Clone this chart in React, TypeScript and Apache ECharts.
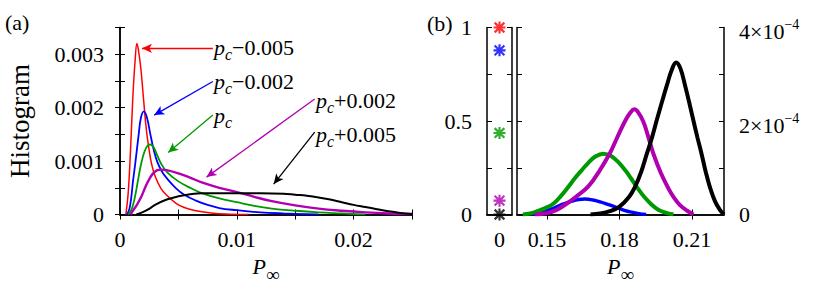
import React, { useEffect, useRef } from 'react';
import * as echarts from 'echarts';

const FONT = 'Liberation Serif';

// ---------- series meta ----------
const seriesNames = ['pc-0.005', 'pc-0.002', 'pc', 'pc+0.002', 'pc+0.005'];
const seriesColors = ['#ff0000', '#0000ff', '#009a00', '#b000b0', '#000000'];
const labelSuffix = ['−0.005', '−0.002', '', '+0.002', '+0.005'];

// ---------- panel (a): histograms of P_inf ----------
const histRed: [number, number][] = [
  [0.0005, 0], [0.0007, 0.0004], [0.0009, 0.0012], [0.0011, 0.0022], [0.0013, 0.0029],
  [0.00145, 0.0032], [0.0016, 0.00305], [0.0018, 0.0027], [0.002, 0.0022], [0.00225, 0.0016],
  [0.0025, 0.0012], [0.0027, 0.00095], [0.003, 0.00072], [0.0035, 0.00049], [0.004, 0.00036],
  [0.0048, 0.00021], [0.0055, 0.00013], [0.0065, 0.00007], [0.0078, 0.00003], [0.009, 0.00001],
  [0.011, 0],
];
const histBlue: [number, number][] = [
  [0.0006, 0], [0.0008, 0.0001], [0.00097, 0.00033], [0.0011, 0.0006], [0.00131, 0.00096],
  [0.0016, 0.0015], [0.0018, 0.00182], [0.00205, 0.00193], [0.0023, 0.00182], [0.0026, 0.0015],
  [0.0029, 0.0012], [0.0032, 0.00098], [0.0036, 0.0008], [0.004, 0.00068], [0.0048, 0.00049],
  [0.0055, 0.00037], [0.0065, 0.00026], [0.0075, 0.00018], [0.0085, 0.00012], [0.01, 0.00008],
  [0.012, 0.00004], [0.014, 0.00002], [0.017, 0],
];
const histGreen: [number, number][] = [
  [0.0007, 0], [0.001, 0.0001], [0.0013, 0.00035], [0.00154, 0.00064], [0.0018, 0.00094],
  [0.0021, 0.00118], [0.0024, 0.0013], [0.0026, 0.00131], [0.0029, 0.00125], [0.0032, 0.0011],
  [0.0035, 0.00096], [0.004, 0.0008], [0.005, 0.00062], [0.0061, 0.00049], [0.007, 0.0004],
  [0.0085, 0.0003], [0.01, 0.00023], [0.0115, 0.00016], [0.013, 0.00011], [0.015, 0.00007],
  [0.017, 0.00004], [0.019, 0.00002], [0.021, 0],
];
const histMagenta: [number, number][] = [
  [0.0009, 0], [0.0012, 0.0001], [0.0015, 0.0002], [0.00182, 0.00033], [0.0022, 0.00053],
  [0.00245, 0.00064], [0.0028, 0.00076], [0.0032, 0.00083], [0.00353, 0.00084], [0.004, 0.00083],
  [0.005, 0.00077], [0.006, 0.00069], [0.007, 0.0006], [0.0085, 0.0005], [0.01, 0.00042],
  [0.0115, 0.00033], [0.013, 0.00025], [0.015, 0.00017], [0.017, 0.00011], [0.019, 0.00007],
  [0.021, 0.00004], [0.023, 0.00002], [0.025, 0.00001],
];
const histBlack: [number, number][] = [
  [0.0014, 0], [0.002, 0.00005], [0.0026, 0.00012], [0.003, 0.00018], [0.004, 0.00028],
  [0.005, 0.00034], [0.006, 0.00038], [0.007, 0.0004], [0.008, 0.0004], [0.01, 0.0004],
  [0.012, 0.0004], [0.014, 0.00039], [0.015, 0.00037], [0.016, 0.00035], [0.017, 0.00032],
  [0.018, 0.00028], [0.019, 0.00023], [0.02, 0.00018], [0.021, 0.00014], [0.022, 0.0001],
  [0.023, 0.00006], [0.024, 0.00003], [0.025, 0.00001],
];
const histA = [histRed, histBlue, histGreen, histMagenta, histBlack];

// arrows of panel (a): [start, end] in data units
const arrowsA: [number, number][][] = [
  [[0.00795, 0.00311], [0.00188, 0.00311]],
  [[0.00795, 0.00249], [0.00293, 0.00186]],
  [[0.00795, 0.00186], [0.00413, 0.00116]],
  [[0.01667, 0.00216], [0.00741, 0.0007]],
  [[0.01667, 0.00154], [0.01316, 0.00057]],
];

// ---------- panel (b) ----------
const infiniteFraction = [1.0, 0.878, 0.436, 0.074, 0];

const histBBlue: [number, number][] = [
  [0.144, 0], [0.148, 0.05e-4], [0.152, 0.12e-4], [0.156, 0.21e-4], [0.16, 0.28e-4],
  [0.163, 0.32e-4], [0.1657, 0.33e-4], [0.169, 0.31e-4], [0.172, 0.27e-4], [0.1755, 0.21e-4],
  [0.1788, 0.15e-4], [0.182, 0.09e-4], [0.185, 0.05e-4], [0.188, 0.02e-4], [0.191, 0],
];
const histBGreen: [number, number][] = [
  [0.14, 0], [0.143, 0.02e-4], [0.146, 0.07e-4], [0.149, 0.13e-4], [0.1526, 0.23e-4],
  [0.1558, 0.4e-4], [0.1588, 0.59e-4], [0.1616, 0.78e-4], [0.1644, 0.95e-4], [0.167, 1.1e-4],
  [0.17, 1.24e-4], [0.1733, 1.3e-4], [0.1765, 1.25e-4], [0.1795, 1.12e-4], [0.1823, 0.95e-4],
  [0.1848, 0.77e-4], [0.1871, 0.59e-4], [0.19, 0.39e-4], [0.1933, 0.21e-4], [0.196, 0.1e-4],
  [0.199, 0.04e-4], [0.2023, 0],
];
const histBMagenta: [number, number][] = [
  [0.145, 0], [0.15, 0.03e-4], [0.154, 0.1e-4], [0.1581, 0.23e-4], [0.162, 0.38e-4],
  [0.1671, 0.6e-4], [0.1719, 0.95e-4], [0.1761, 1.32e-4], [0.1788, 1.62e-4], [0.1823, 2.0e-4],
  [0.1845, 2.18e-4], [0.1861, 2.25e-4], [0.1878, 2.18e-4], [0.1899, 1.98e-4], [0.1919, 1.66e-4],
  [0.194, 1.3e-4], [0.197, 0.9e-4], [0.2002, 0.56e-4], [0.2025, 0.36e-4], [0.205, 0.2e-4],
  [0.208, 0.08e-4], [0.2105, 0],
];
const histBBlack: [number, number][] = [
  [0.168, 0], [0.172, 0.02e-4], [0.176, 0.07e-4], [0.18, 0.17e-4], [0.184, 0.38e-4],
  [0.1864, 0.59e-4], [0.189, 0.92e-4], [0.1913, 1.3e-4], [0.1935, 1.66e-4], [0.1954, 2.02e-4],
  [0.1975, 2.4e-4], [0.1995, 2.75e-4], [0.2015, 3.08e-4], [0.2034, 3.25e-4], [0.2052, 3.12e-4],
  [0.2071, 2.76e-4], [0.2088, 2.4e-4], [0.2105, 2.02e-4], [0.2122, 1.65e-4], [0.214, 1.28e-4],
  [0.2157, 0.9e-4], [0.2174, 0.58e-4], [0.2195, 0.28e-4], [0.2215, 0.1e-4], [0.2232, 0],
];
const histB = [histBBlue, histBGreen, histBMagenta, histBBlack];
const histBColors = ['#0000ff', '#009a00', '#b000b0', '#000000'];

// ---------- tick labels ----------
const aXLabels = [0, 0.01, 0.02];
const aYLabels = [0, 0.001, 0.002, 0.003];
const bFracLabels = [0, 0.5, 1];
const bXLabels = [0.15, 0.18, 0.21];
const bYLabels = [0, 2e-4, 4e-4];
const bXMin = 0.1376;
const bXMax = 0.2232;

const STAR =
  'path://M-5,-0.9L5,-0.9L5,0.9L-5,0.9Z M-0.9,-5L0.9,-5L0.9,5L-0.9,5Z M-3.4,-4.7L4.7,3.4L3.4,4.7L-4.7,-3.4Z M3.4,-4.7L4.7,-3.4L-3.4,4.7L-4.7,3.4Z';

const labelFont = { fontFamily: FONT, fontSize: 22, color: '#000' };
const axisLine = { show: true, lineStyle: { color: '#000', width: 1.5 } };
const tickIn = { show: true, inside: true, length: 5, lineStyle: { color: '#000', width: 1 } };

const pName = {
  name: '{p|P}{s|∞}',
  nameLocation: 'middle' as const,
  nameGap: 31,
  nameTextStyle: {
    rich: {
      p: { fontFamily: FONT, fontSize: 22, fontStyle: 'italic', color: '#000' },
      s: { fontFamily: FONT, fontSize: 19, color: '#000', padding: [17, 0, 0, 0] },
    },
  },
};

export default function App() {
  const ref = useRef<HTMLDivElement>(null);
  useEffect(() => {
    if (!ref.current) return;
    const chart = echarts.init(ref.current, null, { renderer: 'svg' });

    const labelPos: [number, number][] = [
      [214, 47], [214, 81], [214, 115], [316, 100], [316, 134],
    ];

    const option: any = {
      animation: false,
      grid: [
        { left: 120, top: 27.5, width: 292, height: 187 },
        { left: 487, top: 27.5, width: 25, height: 187 },
        { left: 517, top: 27.5, width: 207, height: 187 },
      ],
      xAxis: [
        {
          gridIndex: 0, type: 'value', position: 'bottom', min: 0, max: 0.025, interval: 0.005,
          axisLine, axisTick: tickIn, splitLine: { show: false },
          axisLabel: { ...labelFont, margin: 14, customValues: aXLabels,
            formatter: (v: number) => (v === 0 ? '0' : v.toFixed(2)) },
          ...pName,
        },
        {
          gridIndex: 0, type: 'value', position: 'top', min: 0, max: 0.025, interval: 0.005,
          axisLine, axisTick: tickIn, splitLine: { show: false }, axisLabel: { show: false },
        },
        {
          gridIndex: 1, type: 'category', position: 'bottom', data: ['0'], boundaryGap: true,
          axisLine, axisTick: { show: false }, splitLine: { show: false },
          axisLabel: { ...labelFont, margin: 14 },
        },
        {
          gridIndex: 1, type: 'category', position: 'top', data: ['0'],
          axisLine, axisTick: { show: false }, axisLabel: { show: false },
        },
        {
          gridIndex: 2, type: 'value', position: 'bottom', min: bXMin, max: bXMax,
          axisLine, splitLine: { show: false },
          axisTick: { ...tickIn, customValues: bXLabels },
          axisLabel: { ...labelFont, margin: 14, customValues: bXLabels,
            formatter: (v: number) => v.toFixed(2) },
          ...pName,
        },
        {
          gridIndex: 2, type: 'value', position: 'top', min: bXMin, max: bXMax,
          axisLine, splitLine: { show: false },
          axisTick: { ...tickIn, customValues: bXLabels }, axisLabel: { show: false },
        },
      ],
      yAxis: [
        {
          gridIndex: 0, type: 'value', position: 'left', min: 0, max: 0.0035, interval: 0.0005,
          axisLine, axisTick: tickIn, splitLine: { show: false },
          axisLabel: { ...labelFont, margin: 16, customValues: aYLabels,
            formatter: (v: number) => (v === 0 ? '0' : v.toFixed(3)) },
          name: 'Histogram', nameLocation: 'middle', nameRotate: 90, nameGap: 87,
          nameTextStyle: { fontFamily: FONT, fontSize: 27, color: '#000' },
        },
        {
          gridIndex: 0, type: 'value', position: 'right', min: 0, max: 0.0035, interval: 0.0005,
          axisLine, axisTick: tickIn, splitLine: { show: false }, axisLabel: { show: false },
        },
        {
          gridIndex: 1, type: 'value', position: 'left', min: 0, max: 1, interval: 0.25,
          axisLine, axisTick: tickIn, splitLine: { show: false },
          axisLabel: { ...labelFont, margin: 15, customValues: bFracLabels,
            formatter: (v: number) => String(v) },
        },
        {
          gridIndex: 1, type: 'value', position: 'right', min: 0, max: 1, interval: 0.25,
          axisLine, axisTick: tickIn, splitLine: { show: false }, axisLabel: { show: false },
        },
        {
          gridIndex: 2, type: 'value', position: 'left', min: 0, max: 4e-4, interval: 1e-4,
          axisLine, axisTick: tickIn, splitLine: { show: false }, axisLabel: { show: false },
        },
        {
          gridIndex: 2, type: 'value', position: 'right', min: 0, max: 4e-4, interval: 1e-4,
          axisLine, axisTick: tickIn, splitLine: { show: false },
          axisLabel: {
            margin: 15, customValues: bYLabels,
            formatter: (v: number) =>
              v === 0 ? '{z|0}' : `{b|${Math.round(v * 1e4)}×10}{s|−4}`,
            rich: {
              z: { fontFamily: FONT, fontSize: 22, color: '#000' },
              b: { fontFamily: FONT, fontSize: 22, color: '#000', padding: [8, 0, 0, 0] },
              s: { fontFamily: FONT, fontSize: 14, color: '#000', padding: [0, 0, 6, 0] },
            },
          },
        },
      ],
      series: [
        ...histA.map((d, i) => ({
          name: seriesNames[i],
          type: 'line',
          xAxisIndex: 0,
          yAxisIndex: 0,
          data: d,
          showSymbol: false,
          smooth: 0.4,
          lineStyle: { color: seriesColors[i], width: i === 3 ? 2.4 : i === 4 ? 2 : i === 0 ? 1.5 : 1.8 },
          markLine: {
            silent: true,
            symbol: ['none', 'arrow'],
            symbolSize: [7, 10],
            label: { show: false },
            lineStyle: { color: seriesColors[i], width: 1.3, type: 'solid' },
            emphasis: { disabled: true },
            data: [[{ coord: arrowsA[i][0] }, { coord: arrowsA[i][1] }]],
          },
        })),
        ...histB.map((d, i) => ({
          type: 'line',
          xAxisIndex: 4,
          yAxisIndex: 5,
          data: d,
          showSymbol: false,
          smooth: 0.4,
          lineStyle: { color: histBColors[i], width: i === 0 ? 3.4 : 4 },
        })),
        {
          type: 'scatter',
          xAxisIndex: 2,
          yAxisIndex: 2,
          clip: false,
          symbol: STAR,
          symbolSize: 12,
          data: infiniteFraction.map((v, i) => ({
            value: ['0', v],
            itemStyle: { color: seriesColors[i] },
          })),
        },
      ],
      graphic: [
        { type: 'text', x: 5, y: 22, style: { text: '(a)', fontFamily: FONT, fontSize: 22, fill: '#000', verticalAlign: 'middle' } },
        { type: 'text', x: 427, y: 23, style: { text: '(b)', fontFamily: FONT, fontSize: 22, fill: '#000', verticalAlign: 'middle' } },
        ...labelPos.map((p, i) => ({
          type: 'text',
          x: p[0],
          y: p[1],
          style: {
            text: '{p|p}{c|c}' + (labelSuffix[i] ? `{n|${labelSuffix[i]}}` : ''),
            align: 'left',
            verticalAlign: 'middle',
            rich: {
              p: { fontFamily: FONT, fontSize: 22, fontStyle: 'italic', fill: '#000' },
              c: { fontFamily: FONT, fontSize: 16, fontStyle: 'italic', fill: '#000', padding: [14, 0, 0, 0] },
              n: { fontFamily: FONT, fontSize: 22, fill: '#000' },
            },
          },
        })),
      ],
    };
    chart.setOption(option);
    return () => chart.dispose();
  }, []);
  return (
    <div
      ref={ref}
      style={{ position: 'absolute', left: 0, top: 0, width: 817, height: 290, background: '#fff' }}
    />
  );
}
